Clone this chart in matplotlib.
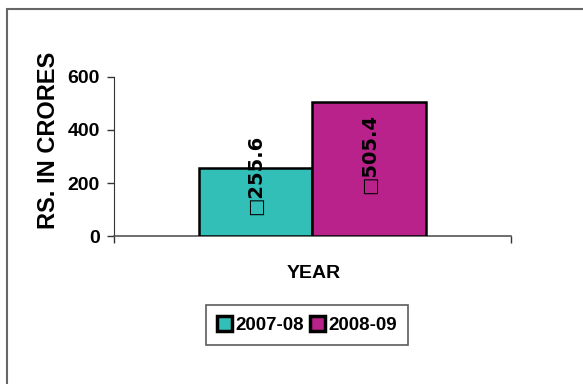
import matplotlib.pyplot as plt
import matplotlib.patches as mpatches

# data
years = ["2007-08", "2008-09"]
values = [255.6, 505.4]
colors = ["#31bfb8", "#b8228a"]
yticks = [0, 200, 400, 600]

plt.rcParams['font.family'] = ['Liberation Sans', 'DejaVu Sans']
plt.rcParams['font.weight'] = 'bold'

fig = plt.figure(figsize=(5.83, 3.84), dpi=100)
ax = fig.add_axes([0.1955, 0.3854, 0.681, 0.4141])

width = 0.287
offsets = [-width / 2, width / 2]
for i, (yr, v) in enumerate(zip(years, values)):
    ax.bar(offsets[i], v, width=width, color=colors[i], edgecolor='black',
           linewidth=1.8, label=yr, zorder=3)
    # etiquette de valeur, tournee
    ax.text(offsets[i], v * 0.31, "\u25a1" + str(v), rotation=90, ha='center',
            va='bottom', fontsize=14, fontweight='bold', zorder=4,
            family=['DejaVu Sans'])

ax.set_xlim(-0.5, 0.5)
ax.set_ylim(0, 600)
ax.set_yticks(yticks)
ax.set_yticklabels([str(t) for t in yticks], fontsize=14, fontweight='bold')
ax.set_xticks([-0.5, 0.5])
ax.set_xticklabels([])
ax.tick_params(axis='both', direction='out', length=5, width=1, color='#333333')
ax.tick_params(axis='y', pad=5)
for s in ['top', 'right']:
    ax.spines[s].set_visible(False)
ax.spines['left'].set_color('#333333')
ax.spines['bottom'].set_color('#555555')
ax.spines['bottom'].set_linewidth(1.2)

fig.text(49 / 583, 1 - 140 / 384, "RS. IN CRORES", rotation=90, ha='center',
         va='center', fontsize=17, fontweight='bold')
fig.text(314 / 583, 1 - 273 / 384, "YEAR", ha='center', va='center',
         fontsize=14, fontweight='bold')

leg = fig.legend(loc='center', bbox_to_anchor=(307 / 583, 1 - 325 / 384), ncol=2,
                 fancybox=False, edgecolor='#333333', handlelength=0.8,
                 handleheight=0.8, handletextpad=0.2, columnspacing=0.3,
                 borderpad=0.6, prop={'size': 13.5, 'weight': 'bold'})
leg.get_frame().set_linewidth(1.2)
for h in leg.legend_handles:
    h.set_linewidth(2.5)

# cadre exterieur
fig.patches.append(mpatches.Rectangle((7 / 583, -0.1), 2, 1 - 9 / 384 + 0.1,
                                      transform=fig.transFigure, fill=False,
                                      edgecolor='#666666', linewidth=1.5))

fig.savefig("out.png", dpi=100)
